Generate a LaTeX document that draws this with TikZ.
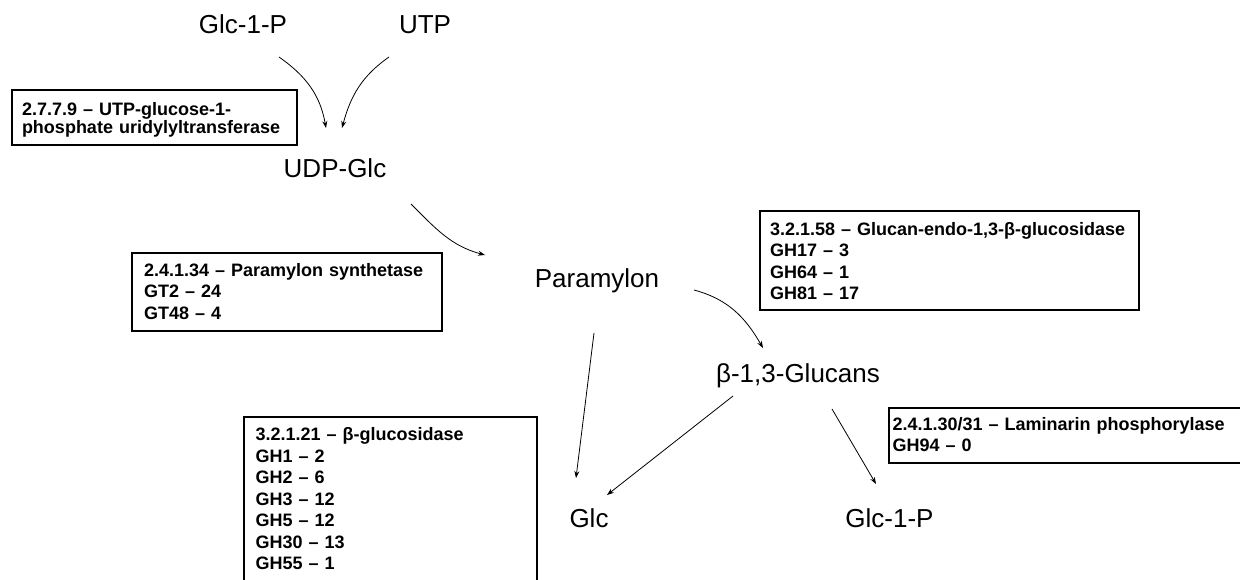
\documentclass[tikz,border=0pt]{standalone}
\usepackage{fontspec}
\setmainfont{Liberation Sans}
\usetikzlibrary{arrows.meta}

\begin{document}
\begin{tikzpicture}[x=1pt,y=1pt,
  metab/.style={font=\fontsize{26}{30}\selectfont, inner sep=0pt, anchor=base},
  enzbox/.style={draw, line width=1.5pt, outer sep=0pt, inner ysep=0pt, anchor=base west,
    align=left, font=\fontsize{18}{21.5}\selectfont\bfseries},
  react/.style={line width=0.8pt, -{Stealth[length=7pt,width=5pt]}}]
\useasboundingbox (0,0) rectangle (1240,-579);
\clip (0,0) rectangle (1240,-579);

\node[metab] (glcp) at (243,-33) {Glc-1-P};
\node[metab] (utp) at (425,-33) {UTP};
\node[metab] (udp) at (335,-177) {UDP-Glc};
\node[metab] (paramylon) at (597,-287) {Paramylon};
\node[metab] (glucans) at (798,-382) {β-1,3-Glucans};
\node[metab] (glc) at (589,-527) {Glc};
\node[metab] (glcpb) at (889.5,-527) {Glc-1-P};

\node[enzbox, inner xsep=10pt, text width=265pt, text height=25pt, text depth=30pt,
  font=\fontsize{18}{18}\selectfont\bfseries] (ec2779) at (12,-115)
  {2.7.7.9 – UTP-glucose-1-\\phosphate uridylyltransferase};
\node[enzbox, inner xsep=12pt, text width=286pt, text height=23pt, text depth=55pt] (ec24134) at (132,-276)
  {2.4.1.34 – Paramylon synthetase\\GT2 – 24\\GT48 – 4};
\node[enzbox, inner xsep=10pt, text width=359pt, text height=24pt, text depth=75pt] (ec32158) at (760,-235)
  {3.2.1.58 – Glucan-endo-1,3-β-glucosidase\\GH17 – 3\\GH64 – 1\\GH81 – 17};
\node[enzbox, inner xsep=3.5pt, text width=354pt, text height=22pt, text depth=33pt] (ec24130) at (889,-430)
  {2.4.1.30/31 – Laminarin phosphorylase\\GH94 – 0};
\node[enzbox, inner xsep=11.5pt, text width=270pt, text height=23.7pt, text depth=170pt] (ec32121) at (244,-440.7)
  {3.2.1.21 – β-glucosidase\\GH1 – 2\\GH2 – 6\\GH3 – 12\\GH5 – 12\\GH30 – 13\\GH55 – 1};

\draw[react] ([xshift=36pt,yshift=-24pt]glcp.base) to[out=-35,in=100] ([xshift=-9pt,yshift=49pt]udp.base);
\draw[react] ([xshift=-36pt,yshift=-24pt]utp.base) to[out=-145,in=75] ([xshift=7pt,yshift=49pt]udp.base);
\draw[react] ([xshift=76pt,yshift=-27pt]udp.base) to[out=-45,in=165] ([xshift=-112pt,yshift=32pt]paramylon.base);
\draw[react] ([xshift=97pt,yshift=-3pt]paramylon.base) to[out=-15,in=120] ([xshift=-35pt,yshift=34pt]glucans.base);
\draw[react] ([xshift=-3pt,yshift=-46pt]paramylon.base) -- ([xshift=-13pt,yshift=49pt]glc.base);
\draw[react] ([xshift=-65pt,yshift=-14pt]glucans.base) -- ([xshift=18pt,yshift=32pt]glc.base);
\draw[react] ([xshift=34pt,yshift=-27pt]glucans.base) -- ([xshift=-13.5pt,yshift=43pt]glcpb.base);
\end{tikzpicture}
\end{document}
